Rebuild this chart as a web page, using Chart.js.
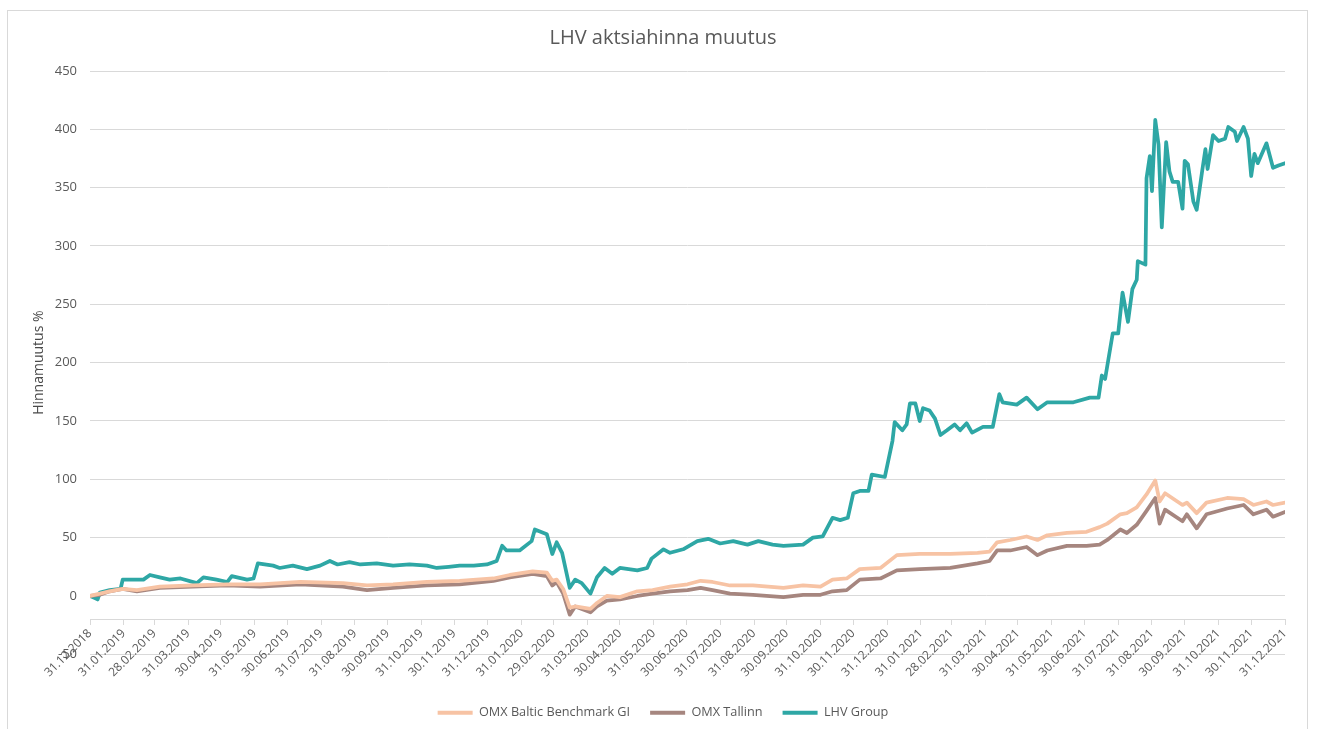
<!DOCTYPE html>
<html><head><meta charset="utf-8">
<script src="https://cdn.jsdelivr.net/npm/chart.js@4.4.0/dist/chart.umd.min.js"></script>
<style>
html,body{margin:0;padding:0;background:#fff;}
#wrap{position:relative;width:1317px;height:729px;overflow:hidden;}
#frame{position:absolute;left:7px;top:10px;width:1301px;height:730px;border:1px solid #d9d9d9;box-sizing:border-box;pointer-events:none;}
canvas{position:absolute;left:0;top:0;}
</style></head><body>
<div id="wrap"><canvas id="c" width="1317" height="729"></canvas><div id="frame"></div></div>
<script>
const chartTitle = 'LHV aktsiahinna muutus';
const yTitle = 'Hinnamuutus %';
const seriesNames = ['OMX Baltic Benchmark GI', 'OMX Tallinn', 'LHV Group'];

const tickLabels = ['31.12.2018','31.01.2019','28.02.2019','31.03.2019','30.04.2019','31.05.2019','30.06.2019','31.07.2019','31.08.2019','30.09.2019','31.10.2019','30.11.2019','31.12.2019','31.01.2020','29.02.2020','31.03.2020','30.04.2020','31.05.2020','30.06.2020','31.07.2020','31.08.2020','30.09.2020','31.10.2020','30.11.2020','31.12.2020','31.01.2021','28.02.2021','31.03.2021','30.04.2021','31.05.2021','30.06.2021','31.07.2021','31.08.2021','30.09.2021','31.10.2021','30.11.2021','31.12.2021'];

const lhvDates = ['31.12.2018','05.01.2019','07.01.2019','09.01.2019','18.01.2019','28.01.2019','30.01.2019','18.02.2019','24.02.2019','05.03.2019','14.03.2019','24.03.2019','08.04.2019','14.04.2019','26.04.2019','06.05.2019','10.05.2019','24.05.2019','30.05.2019','03.06.2019','17.06.2019','23.06.2019','05.07.2019','18.07.2019','30.07.2019','08.08.2019','15.08.2019','26.08.2019','05.09.2019','20.09.2019','05.10.2019','20.10.2019','05.11.2019','14.11.2019','25.11.2019','05.12.2019','18.12.2019','30.12.2019','08.01.2020','13.01.2020','17.01.2020','29.01.2020','09.02.2020','12.02.2020','23.02.2020','28.02.2020','03.03.2020','08.03.2020','15.03.2020','20.03.2020','26.03.2020','03.04.2020','09.04.2020','16.04.2020','23.04.2020','30.04.2020','16.05.2020','25.05.2020','29.05.2020','09.06.2020','15.06.2020','27.06.2020','10.07.2020','20.07.2020','31.07.2020','12.08.2020','25.08.2020','04.09.2020','17.09.2020','27.09.2020','15.10.2020','24.10.2020','02.11.2020','11.11.2020','18.11.2020','25.11.2020','30.11.2020','06.12.2020','14.12.2020','17.12.2020','29.12.2020','05.01.2021','07.01.2021','14.01.2021','18.01.2021','21.01.2021','26.01.2021','30.01.2021','02.02.2021','08.02.2021','13.02.2021','18.02.2021','24.02.2021','03.03.2021','08.03.2021','14.03.2021','19.03.2021','29.03.2021','07.04.2021','13.04.2021','16.04.2021','29.04.2021','08.05.2021','18.05.2021','27.05.2021','08.06.2021','20.06.2021','05.07.2021','13.07.2021','16.07.2021','19.07.2021','26.07.2021','31.07.2021','04.08.2021','09.08.2021','13.08.2021','17.08.2021','18.08.2021','25.08.2021','26.08.2021','29.08.2021','31.08.2021','03.09.2021','06.09.2021','09.09.2021','13.09.2021','16.09.2021','19.09.2021','24.09.2021','28.09.2021','30.09.2021','03.10.2021','08.10.2021','11.10.2021','16.10.2021','19.10.2021','21.10.2021','26.10.2021','31.10.2021','06.11.2021','09.11.2021','15.11.2021','17.11.2021','23.11.2021','27.11.2021','30.11.2021','03.12.2021','06.12.2021','14.12.2021','20.12.2021','25.12.2021','31.12.2021'];
const lhvValues = [0,-2,-3,3,5,6,14,14,18,16,14,15,11,16,14,12,17,14,15,28,26,24,26,23,26,30,27,29,27,28,26,27,26,24,25,26,26,27,30,43,39,39,47,57,53,36,46,37,7,14,11,2,16,24,19,24,22,24,32,40,37,40,47,49,45,47,44,47,44,43,44,50,51,67,65,67,88,90,90,104,102,133,149,142,147,165,165,150,161,159,152,138,142,147,142,148,140,145,145,173,166,164,170,160,166,166,166,170,170,189,186,225,225,260,235,263,271,287,284,358,377,347,408,387,316,389,364,355,355,332,373,370,338,331,364,383,366,395,390,392,402,398,390,402,392,360,379,371,388,367,369,371];

const indexDates = ['31.12.2018','09.01.2019','18.01.2019','30.01.2019','12.02.2019','05.03.2019','04.04.2019','06.05.2019','05.06.2019','12.07.2019','20.08.2019','11.09.2019','05.10.2019','05.11.2019','05.12.2019','05.01.2020','20.01.2020','10.02.2020','23.02.2020','28.02.2020','03.03.2020','09.03.2020','15.03.2020','20.03.2020','03.04.2020','09.04.2020','18.04.2020','30.04.2020','16.05.2020','30.05.2020','15.06.2020','01.07.2020','13.07.2020','24.07.2020','09.08.2020','30.08.2020','27.09.2020','15.10.2020','31.10.2020','11.11.2020','24.11.2020','06.12.2020','25.12.2020','09.01.2021','30.01.2021','27.02.2021','24.03.2021','04.04.2021','11.04.2021','23.04.2021','08.05.2021','18.05.2021','27.05.2021','14.06.2021','02.07.2021','14.07.2021','21.07.2021','02.08.2021','08.08.2021','17.08.2021','26.08.2021','03.09.2021','07.09.2021','12.09.2021','28.09.2021','02.10.2021','11.10.2021','20.10.2021','08.11.2021','23.11.2021','02.12.2021','14.12.2021','20.12.2021','31.12.2021'];
const balticValues = [0,2,4,6,5,8,9,10,10,12,11,9,10,12,13,15,18,21,20,13,14,6,-10,-9,-11,-6,0,-1,4,5,8,10,13,12,9,9,7,9,8,14,15,23,24,35,36,36,37,38,46,48,51,48,52,54,55,59,62,70,71,76,87,99,81,88,78,80,71,80,84,83,78,81,78,80];
const tallinnValues = [0,1,4,6,4,7,8,9,8,10,8,5,7,9,10,13,16,19,17,9,12,2,-16,-9,-14,-9,-4,-3,0,2,4,5,7,5,2,1,-1,1,1,4,5,14,15,22,23,24,28,30,39,39,42,35,39,43,43,44,48,57,54,61,73,84,62,74,64,70,58,70,75,78,70,74,68,72];

const base = Date.UTC(2018, 11, 31);
function dayOf(s) {
  const p = s.split('.');
  return Math.round((Date.UTC(+p[2], +p[1] - 1, +p[0]) - base) / 864e5);
}
const pts = (dates, vals) => dates.map((d, i) => ({ x: dayOf(d), y: vals[i] }));

const FONT = "'Open Sans', 'Noto Sans', sans-serif";
const TXT = '#595959';
const GRID = '#d9d9d9';
const colors = ['#F7C3A4', '#A6867F', '#2EA7A5'];

const mk = (i, data) => ({
  label: seriesNames[i], data,
  borderColor: colors[i], backgroundColor: colors[i],
  borderWidth: 3.75, pointRadius: 0, tension: 0, fill: false,
  borderJoinStyle: 'round', borderCapStyle: 'round'
});

new Chart(document.getElementById('c'), {
  type: 'line',
  data: {
    datasets: [
      mk(0, pts(indexDates, balticValues)),
      mk(1, pts(indexDates, tallinnValues)),
      mk(2, pts(lhvDates, lhvValues))
    ]
  },
  options: {
    responsive: false,
    animation: false,
    layout: { padding: { left: 9, right: 0, top: 0, bottom: 0 } },
    scales: {
      x: {
        type: 'linear', min: 0, max: dayOf('31.12.2021'),
        position: { y: -20 },
        afterBuildTicks: s => { s.ticks = tickLabels.map(t => ({ value: dayOf(t) })); },
        ticks: {
          autoSkip: false, minRotation: 45, maxRotation: 45,
          callback: (v, i) => tickLabels[i],
          font: { family: FONT, size: 12 }, color: TXT, padding: 2
        },
        grid: { drawOnChartArea: false, drawTicks: true, tickLength: 5, color: GRID },
        border: { display: true, color: GRID, width: 1 }
      },
      x2: {
        type: 'linear', position: 'bottom', min: 0, max: 1, display: true,
        ticks: { display: false }, grid: { display: false }, border: { display: false },
        afterFit: s => { s.height = 32; }
      },
      y: {
        min: -50, max: 450,
        ticks: { stepSize: 50, font: { family: FONT, size: 13 }, color: TXT, padding: 13 },
        grid: { color: GRID, drawTicks: false, lineWidth: 1 },
        border: { display: false },
        title: { display: true, text: yTitle, font: { family: FONT, size: 14 }, color: '#4a4a4a', padding: { top: 22, bottom: 0 } },
        afterFit: s => { s.width = 81; }
      },
      y2: {
        type: 'linear', position: 'right', min: 0, max: 1, display: true,
        ticks: { display: false }, grid: { display: false }, border: { display: false },
        afterFit: s => { s.width = 32; }
      }
    },
    plugins: {
      title: {
        display: true, text: chartTitle, color: TXT,
        font: { family: FONT, size: 20, weight: 'normal' },
        padding: { top: 26, bottom: 21 }
      },
      legend: {
        position: 'bottom',
        labels: {
          boxWidth: 35, boxHeight: 4, padding: 20, color: TXT,
          font: { family: FONT, size: 12.7 },
          generateLabels: ch => Chart.defaults.plugins.legend.labels.generateLabels(ch).map(l => Object.assign(l, { lineWidth: 0 }))
        }
      },
      tooltip: { enabled: false }
    }
  }
});
</script>
</body></html>
